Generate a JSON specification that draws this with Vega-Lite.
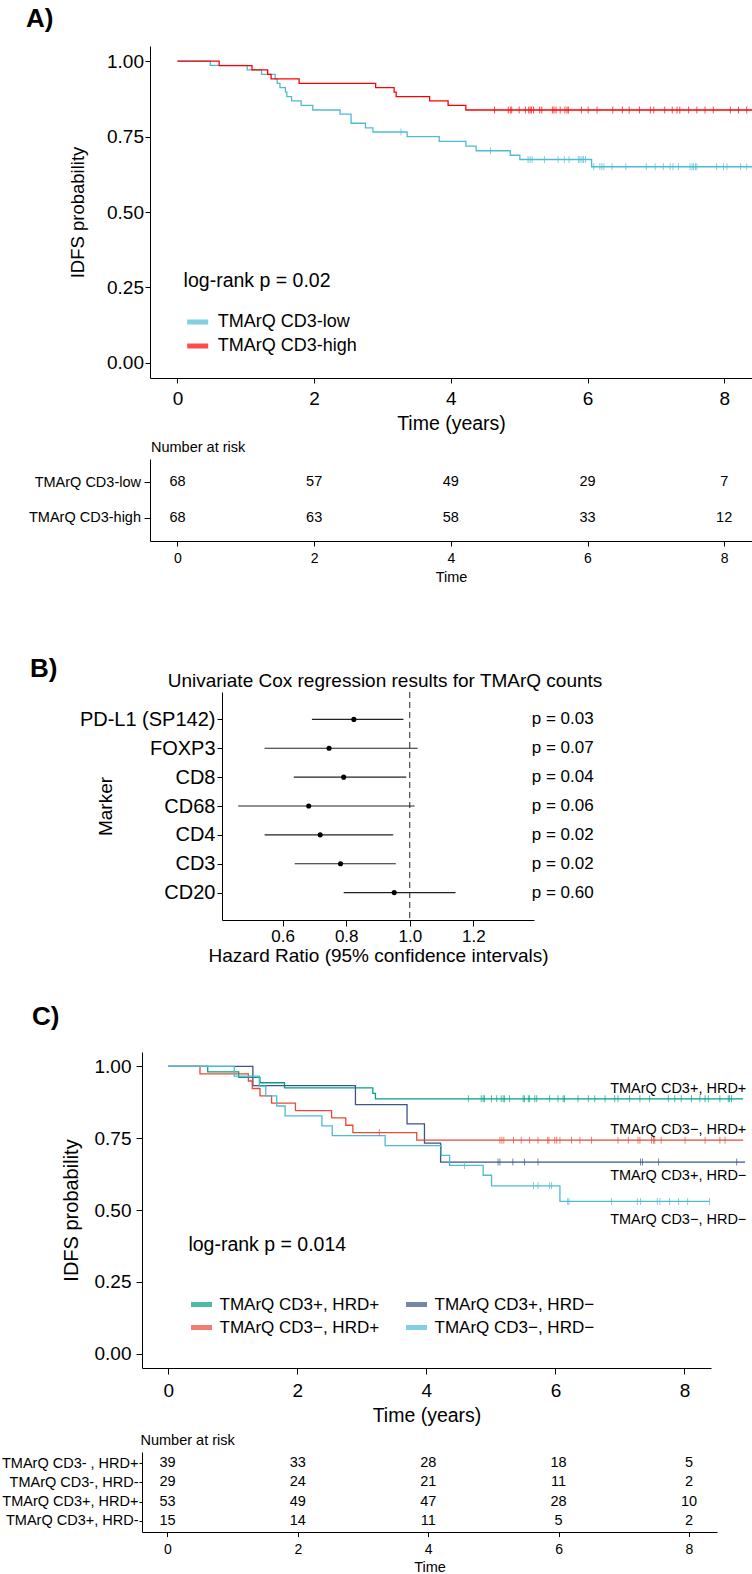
{
  "$schema": "https://vega.github.io/schema/vega-lite/v6.json",
  "background": "white",
  "padding": {"left": 0, "top": 6, "right": 0, "bottom": 0},
  "autosize": {"type": "pad"},
  "spacing": 19,
  "resolve": {"scale": {"color": "independent"}, "legend": {"color": "independent"}},
  "config": {
    "view": {"stroke": null},
    "font": "Liberation Sans",
    "axis": {"grid": false, "domainColor": "black", "tickColor": "black", "labelColor": "black", "titleColor": "black", "titleFontWeight": "normal", "domainWidth": 1, "tickWidth": 1, "labelFont": "Liberation Sans", "titleFont": "Liberation Sans"},
    "title": {"color": "black", "font": "Liberation Sans"},
    "legend": {"labelFont": "Liberation Sans", "labelColor": "black"}
  },
  "datasets": {
    "kmA": [
      {"group": "TMArQ CD3-low", "time": 0, "surv": 1},
      {"group": "TMArQ CD3-low", "time": 0.48, "surv": 0.986},
      {"group": "TMArQ CD3-low", "time": 1.02, "surv": 0.971},
      {"group": "TMArQ CD3-low", "time": 1.23, "surv": 0.956},
      {"group": "TMArQ CD3-low", "time": 1.43, "surv": 0.941},
      {"group": "TMArQ CD3-low", "time": 1.46, "surv": 0.926},
      {"group": "TMArQ CD3-low", "time": 1.5, "surv": 0.912},
      {"group": "TMArQ CD3-low", "time": 1.58, "surv": 0.897},
      {"group": "TMArQ CD3-low", "time": 1.6, "surv": 0.882},
      {"group": "TMArQ CD3-low", "time": 1.67, "surv": 0.868},
      {"group": "TMArQ CD3-low", "time": 1.81, "surv": 0.853},
      {"group": "TMArQ CD3-low", "time": 1.98, "surv": 0.838},
      {"group": "TMArQ CD3-low", "time": 2.38, "surv": 0.824},
      {"group": "TMArQ CD3-low", "time": 2.54, "surv": 0.794},
      {"group": "TMArQ CD3-low", "time": 2.75, "surv": 0.779},
      {"group": "TMArQ CD3-low", "time": 2.86, "surv": 0.765},
      {"group": "TMArQ CD3-low", "time": 3.36, "surv": 0.75},
      {"group": "TMArQ CD3-low", "time": 3.83, "surv": 0.734},
      {"group": "TMArQ CD3-low", "time": 4.22, "surv": 0.718},
      {"group": "TMArQ CD3-low", "time": 4.37, "surv": 0.703},
      {"group": "TMArQ CD3-low", "time": 4.87, "surv": 0.688},
      {"group": "TMArQ CD3-low", "time": 5.01, "surv": 0.674},
      {"group": "TMArQ CD3-low", "time": 6.06, "surv": 0.65},
      {"group": "TMArQ CD3-low", "time": 8.6, "surv": 0.65},
      {"group": "TMArQ CD3-high", "time": 0, "surv": 1},
      {"group": "TMArQ CD3-high", "time": 0.61, "surv": 0.985},
      {"group": "TMArQ CD3-high", "time": 1.09, "surv": 0.971},
      {"group": "TMArQ CD3-high", "time": 1.32, "surv": 0.956},
      {"group": "TMArQ CD3-high", "time": 1.37, "surv": 0.941},
      {"group": "TMArQ CD3-high", "time": 1.78, "surv": 0.926},
      {"group": "TMArQ CD3-high", "time": 2.9, "surv": 0.912},
      {"group": "TMArQ CD3-high", "time": 3.17, "surv": 0.897},
      {"group": "TMArQ CD3-high", "time": 3.2, "surv": 0.882},
      {"group": "TMArQ CD3-high", "time": 3.69, "surv": 0.868},
      {"group": "TMArQ CD3-high", "time": 3.96, "surv": 0.853},
      {"group": "TMArQ CD3-high", "time": 4.22, "surv": 0.838},
      {"group": "TMArQ CD3-high", "time": 8.6, "surv": 0.838}
    ],
    "censA": [
      {"group": "TMArQ CD3-high", "time": 4.64, "surv": 0.838},
      {"group": "TMArQ CD3-high", "time": 4.84, "surv": 0.838},
      {"group": "TMArQ CD3-high", "time": 4.87, "surv": 0.838},
      {"group": "TMArQ CD3-high", "time": 4.89, "surv": 0.838},
      {"group": "TMArQ CD3-high", "time": 5.0, "surv": 0.838},
      {"group": "TMArQ CD3-high", "time": 5.09, "surv": 0.838},
      {"group": "TMArQ CD3-high", "time": 5.14, "surv": 0.838},
      {"group": "TMArQ CD3-high", "time": 5.16, "surv": 0.838},
      {"group": "TMArQ CD3-high", "time": 5.18, "surv": 0.838},
      {"group": "TMArQ CD3-high", "time": 5.21, "surv": 0.838},
      {"group": "TMArQ CD3-high", "time": 5.3, "surv": 0.838},
      {"group": "TMArQ CD3-high", "time": 5.33, "surv": 0.838},
      {"group": "TMArQ CD3-high", "time": 5.49, "surv": 0.838},
      {"group": "TMArQ CD3-high", "time": 5.51, "surv": 0.838},
      {"group": "TMArQ CD3-high", "time": 5.54, "surv": 0.838},
      {"group": "TMArQ CD3-high", "time": 5.6, "surv": 0.838},
      {"group": "TMArQ CD3-high", "time": 5.67, "surv": 0.838},
      {"group": "TMArQ CD3-high", "time": 5.7, "surv": 0.838},
      {"group": "TMArQ CD3-high", "time": 5.72, "surv": 0.838},
      {"group": "TMArQ CD3-high", "time": 5.91, "surv": 0.838},
      {"group": "TMArQ CD3-high", "time": 6.01, "surv": 0.838},
      {"group": "TMArQ CD3-high", "time": 6.14, "surv": 0.838},
      {"group": "TMArQ CD3-high", "time": 6.37, "surv": 0.838},
      {"group": "TMArQ CD3-high", "time": 6.51, "surv": 0.838},
      {"group": "TMArQ CD3-high", "time": 6.61, "surv": 0.838},
      {"group": "TMArQ CD3-high", "time": 6.76, "surv": 0.838},
      {"group": "TMArQ CD3-high", "time": 6.92, "surv": 0.838},
      {"group": "TMArQ CD3-high", "time": 6.97, "surv": 0.838},
      {"group": "TMArQ CD3-high", "time": 7.13, "surv": 0.838},
      {"group": "TMArQ CD3-high", "time": 7.24, "surv": 0.838},
      {"group": "TMArQ CD3-high", "time": 7.31, "surv": 0.838},
      {"group": "TMArQ CD3-high", "time": 7.35, "surv": 0.838},
      {"group": "TMArQ CD3-high", "time": 7.48, "surv": 0.838},
      {"group": "TMArQ CD3-high", "time": 7.6, "surv": 0.838},
      {"group": "TMArQ CD3-high", "time": 7.72, "surv": 0.838},
      {"group": "TMArQ CD3-high", "time": 7.84, "surv": 0.838},
      {"group": "TMArQ CD3-high", "time": 8.09, "surv": 0.838},
      {"group": "TMArQ CD3-high", "time": 8.21, "surv": 0.838},
      {"group": "TMArQ CD3-high", "time": 8.33, "surv": 0.838},
      {"group": "TMArQ CD3-low", "time": 3.27, "surv": 0.765},
      {"group": "TMArQ CD3-low", "time": 4.58, "surv": 0.703},
      {"group": "TMArQ CD3-low", "time": 5.13, "surv": 0.674},
      {"group": "TMArQ CD3-low", "time": 5.16, "surv": 0.674},
      {"group": "TMArQ CD3-low", "time": 5.19, "surv": 0.674},
      {"group": "TMArQ CD3-low", "time": 5.37, "surv": 0.674},
      {"group": "TMArQ CD3-low", "time": 5.57, "surv": 0.674},
      {"group": "TMArQ CD3-low", "time": 5.66, "surv": 0.674},
      {"group": "TMArQ CD3-low", "time": 5.73, "surv": 0.674},
      {"group": "TMArQ CD3-low", "time": 5.87, "surv": 0.674},
      {"group": "TMArQ CD3-low", "time": 5.89, "surv": 0.674},
      {"group": "TMArQ CD3-low", "time": 5.92, "surv": 0.674},
      {"group": "TMArQ CD3-low", "time": 5.94, "surv": 0.674},
      {"group": "TMArQ CD3-low", "time": 5.97, "surv": 0.674},
      {"group": "TMArQ CD3-low", "time": 6.09, "surv": 0.65},
      {"group": "TMArQ CD3-low", "time": 6.18, "surv": 0.65},
      {"group": "TMArQ CD3-low", "time": 6.21, "surv": 0.65},
      {"group": "TMArQ CD3-low", "time": 6.24, "surv": 0.65},
      {"group": "TMArQ CD3-low", "time": 6.36, "surv": 0.65},
      {"group": "TMArQ CD3-low", "time": 6.56, "surv": 0.65},
      {"group": "TMArQ CD3-low", "time": 6.86, "surv": 0.65},
      {"group": "TMArQ CD3-low", "time": 6.99, "surv": 0.65},
      {"group": "TMArQ CD3-low", "time": 7.11, "surv": 0.65},
      {"group": "TMArQ CD3-low", "time": 7.21, "surv": 0.65},
      {"group": "TMArQ CD3-low", "time": 7.25, "surv": 0.65},
      {"group": "TMArQ CD3-low", "time": 7.33, "surv": 0.65},
      {"group": "TMArQ CD3-low", "time": 7.5, "surv": 0.65},
      {"group": "TMArQ CD3-low", "time": 7.53, "surv": 0.65},
      {"group": "TMArQ CD3-low", "time": 7.55, "surv": 0.65},
      {"group": "TMArQ CD3-low", "time": 7.58, "surv": 0.65},
      {"group": "TMArQ CD3-low", "time": 7.6, "surv": 0.65},
      {"group": "TMArQ CD3-low", "time": 7.89, "surv": 0.65},
      {"group": "TMArQ CD3-low", "time": 7.99, "surv": 0.65},
      {"group": "TMArQ CD3-low", "time": 8.04, "surv": 0.65},
      {"group": "TMArQ CD3-low", "time": 8.24, "surv": 0.65},
      {"group": "TMArQ CD3-low", "time": 8.33, "surv": 0.65}
    ],
    "riskA": [
      {"group": "TMArQ CD3-low", "time": 0, "n": 68},
      {"group": "TMArQ CD3-low", "time": 2, "n": 57},
      {"group": "TMArQ CD3-low", "time": 4, "n": 49},
      {"group": "TMArQ CD3-low", "time": 6, "n": 29},
      {"group": "TMArQ CD3-low", "time": 8, "n": 7},
      {"group": "TMArQ CD3-high", "time": 0, "n": 68},
      {"group": "TMArQ CD3-high", "time": 2, "n": 63},
      {"group": "TMArQ CD3-high", "time": 4, "n": 58},
      {"group": "TMArQ CD3-high", "time": 6, "n": 33},
      {"group": "TMArQ CD3-high", "time": 8, "n": 12}
    ],
    "cox": [
      {"marker": "PD-L1 (SP142)", "hr": 0.824, "lo": 0.692, "hi": 0.98, "label": "p = 0.03"},
      {"marker": "FOXP3", "hr": 0.746, "lo": 0.543, "hi": 1.025, "label": "p = 0.07"},
      {"marker": "CD8", "hr": 0.792, "lo": 0.635, "hi": 0.989, "label": "p = 0.04"},
      {"marker": "CD68", "hr": 0.682, "lo": 0.46, "hi": 1.015, "label": "p = 0.06"},
      {"marker": "CD4", "hr": 0.718, "lo": 0.543, "hi": 0.948, "label": "p = 0.02"},
      {"marker": "CD3", "hr": 0.782, "lo": 0.638, "hi": 0.956, "label": "p = 0.02"},
      {"marker": "CD20", "hr": 0.951, "lo": 0.792, "hi": 1.144, "label": "p = 0.60"}
    ],
    "kmC": [
      {"group": "TMArQ CD3+, HRD+", "time": 0, "surv": 1},
      {"group": "TMArQ CD3+, HRD+", "time": 0.61, "surv": 0.981},
      {"group": "TMArQ CD3+, HRD+", "time": 1.09, "surv": 0.962},
      {"group": "TMArQ CD3+, HRD+", "time": 1.42, "surv": 0.943},
      {"group": "TMArQ CD3+, HRD+", "time": 1.8, "surv": 0.925},
      {"group": "TMArQ CD3+, HRD+", "time": 3.17, "surv": 0.906},
      {"group": "TMArQ CD3+, HRD+", "time": 3.21, "surv": 0.887},
      {"group": "TMArQ CD3+, HRD+", "time": 8.91, "surv": 0.887},
      {"group": "TMArQ CD3+, HRD−", "time": 0, "surv": 1},
      {"group": "TMArQ CD3+, HRD−", "time": 1.31, "surv": 0.933},
      {"group": "TMArQ CD3+, HRD−", "time": 2.9, "surv": 0.867},
      {"group": "TMArQ CD3+, HRD−", "time": 3.7, "surv": 0.8},
      {"group": "TMArQ CD3+, HRD−", "time": 3.97, "surv": 0.733},
      {"group": "TMArQ CD3+, HRD−", "time": 4.22, "surv": 0.667},
      {"group": "TMArQ CD3+, HRD−", "time": 8.94, "surv": 0.667},
      {"group": "TMArQ CD3−, HRD+", "time": 0, "surv": 1},
      {"group": "TMArQ CD3−, HRD+", "time": 0.49, "surv": 0.974},
      {"group": "TMArQ CD3−, HRD+", "time": 1.24, "surv": 0.949},
      {"group": "TMArQ CD3−, HRD+", "time": 1.3, "surv": 0.923},
      {"group": "TMArQ CD3−, HRD+", "time": 1.42, "surv": 0.897},
      {"group": "TMArQ CD3−, HRD+", "time": 1.6, "surv": 0.872},
      {"group": "TMArQ CD3−, HRD+", "time": 1.97, "surv": 0.846},
      {"group": "TMArQ CD3−, HRD+", "time": 2.53, "surv": 0.821},
      {"group": "TMArQ CD3−, HRD+", "time": 2.75, "surv": 0.795},
      {"group": "TMArQ CD3−, HRD+", "time": 2.86, "surv": 0.769},
      {"group": "TMArQ CD3−, HRD+", "time": 3.85, "surv": 0.743},
      {"group": "TMArQ CD3−, HRD+", "time": 8.91, "surv": 0.743},
      {"group": "TMArQ CD3−, HRD−", "time": 0, "surv": 1},
      {"group": "TMArQ CD3−, HRD−", "time": 1.02, "surv": 0.966},
      {"group": "TMArQ CD3−, HRD−", "time": 1.41, "surv": 0.931},
      {"group": "TMArQ CD3−, HRD−", "time": 1.51, "surv": 0.897},
      {"group": "TMArQ CD3−, HRD−", "time": 1.68, "surv": 0.862},
      {"group": "TMArQ CD3−, HRD−", "time": 1.81, "surv": 0.828},
      {"group": "TMArQ CD3−, HRD−", "time": 2.38, "surv": 0.793},
      {"group": "TMArQ CD3−, HRD−", "time": 2.54, "surv": 0.759},
      {"group": "TMArQ CD3−, HRD−", "time": 3.36, "surv": 0.724},
      {"group": "TMArQ CD3−, HRD−", "time": 4.23, "surv": 0.69},
      {"group": "TMArQ CD3−, HRD−", "time": 4.36, "surv": 0.655},
      {"group": "TMArQ CD3−, HRD−", "time": 4.88, "surv": 0.621},
      {"group": "TMArQ CD3−, HRD−", "time": 5.01, "surv": 0.584},
      {"group": "TMArQ CD3−, HRD−", "time": 6.07, "surv": 0.53},
      {"group": "TMArQ CD3−, HRD−", "time": 8.39, "surv": 0.53}
    ],
    "censC": [
      {"group": "TMArQ CD3+, HRD+", "time": 4.65, "surv": 0.887},
      {"group": "TMArQ CD3+, HRD+", "time": 4.85, "surv": 0.887},
      {"group": "TMArQ CD3+, HRD+", "time": 4.88, "surv": 0.887},
      {"group": "TMArQ CD3+, HRD+", "time": 4.9, "surv": 0.887},
      {"group": "TMArQ CD3+, HRD+", "time": 5.01, "surv": 0.887},
      {"group": "TMArQ CD3+, HRD+", "time": 5.09, "surv": 0.887},
      {"group": "TMArQ CD3+, HRD+", "time": 5.16, "surv": 0.887},
      {"group": "TMArQ CD3+, HRD+", "time": 5.19, "surv": 0.887},
      {"group": "TMArQ CD3+, HRD+", "time": 5.21, "surv": 0.887},
      {"group": "TMArQ CD3+, HRD+", "time": 5.29, "surv": 0.887},
      {"group": "TMArQ CD3+, HRD+", "time": 5.5, "surv": 0.887},
      {"group": "TMArQ CD3+, HRD+", "time": 5.52, "surv": 0.887},
      {"group": "TMArQ CD3+, HRD+", "time": 5.58, "surv": 0.887},
      {"group": "TMArQ CD3+, HRD+", "time": 5.6, "surv": 0.887},
      {"group": "TMArQ CD3+, HRD+", "time": 5.68, "surv": 0.887},
      {"group": "TMArQ CD3+, HRD+", "time": 5.71, "surv": 0.887},
      {"group": "TMArQ CD3+, HRD+", "time": 5.91, "surv": 0.887},
      {"group": "TMArQ CD3+, HRD+", "time": 6.04, "surv": 0.887},
      {"group": "TMArQ CD3+, HRD+", "time": 6.12, "surv": 0.887},
      {"group": "TMArQ CD3+, HRD+", "time": 6.14, "surv": 0.887},
      {"group": "TMArQ CD3+, HRD+", "time": 6.35, "surv": 0.887},
      {"group": "TMArQ CD3+, HRD+", "time": 6.51, "surv": 0.887},
      {"group": "TMArQ CD3+, HRD+", "time": 6.61, "surv": 0.887},
      {"group": "TMArQ CD3+, HRD+", "time": 6.77, "surv": 0.887},
      {"group": "TMArQ CD3+, HRD+", "time": 6.92, "surv": 0.887},
      {"group": "TMArQ CD3+, HRD+", "time": 6.97, "surv": 0.887},
      {"group": "TMArQ CD3+, HRD+", "time": 7.15, "surv": 0.887},
      {"group": "TMArQ CD3+, HRD+", "time": 7.31, "surv": 0.887},
      {"group": "TMArQ CD3+, HRD+", "time": 7.46, "surv": 0.887},
      {"group": "TMArQ CD3+, HRD+", "time": 7.75, "surv": 0.887},
      {"group": "TMArQ CD3+, HRD+", "time": 7.85, "surv": 0.887},
      {"group": "TMArQ CD3+, HRD+", "time": 7.95, "surv": 0.887},
      {"group": "TMArQ CD3+, HRD+", "time": 8.11, "surv": 0.887},
      {"group": "TMArQ CD3+, HRD+", "time": 8.24, "surv": 0.887},
      {"group": "TMArQ CD3+, HRD+", "time": 8.32, "surv": 0.887},
      {"group": "TMArQ CD3+, HRD+", "time": 8.37, "surv": 0.887},
      {"group": "TMArQ CD3+, HRD+", "time": 8.55, "surv": 0.887},
      {"group": "TMArQ CD3+, HRD+", "time": 8.68, "surv": 0.887},
      {"group": "TMArQ CD3+, HRD+", "time": 8.7, "surv": 0.887},
      {"group": "TMArQ CD3+, HRD+", "time": 8.73, "surv": 0.887},
      {"group": "TMArQ CD3−, HRD+", "time": 3.27, "surv": 0.769},
      {"group": "TMArQ CD3−, HRD+", "time": 5.14, "surv": 0.743},
      {"group": "TMArQ CD3−, HRD+", "time": 5.17, "surv": 0.743},
      {"group": "TMArQ CD3−, HRD+", "time": 5.2, "surv": 0.743},
      {"group": "TMArQ CD3−, HRD+", "time": 5.35, "surv": 0.743},
      {"group": "TMArQ CD3−, HRD+", "time": 5.47, "surv": 0.743},
      {"group": "TMArQ CD3−, HRD+", "time": 5.6, "surv": 0.743},
      {"group": "TMArQ CD3−, HRD+", "time": 5.73, "surv": 0.743},
      {"group": "TMArQ CD3−, HRD+", "time": 5.88, "surv": 0.743},
      {"group": "TMArQ CD3−, HRD+", "time": 5.9, "surv": 0.743},
      {"group": "TMArQ CD3−, HRD+", "time": 5.99, "surv": 0.743},
      {"group": "TMArQ CD3−, HRD+", "time": 6.02, "surv": 0.743},
      {"group": "TMArQ CD3−, HRD+", "time": 6.07, "surv": 0.743},
      {"group": "TMArQ CD3−, HRD+", "time": 6.25, "surv": 0.743},
      {"group": "TMArQ CD3−, HRD+", "time": 6.38, "surv": 0.743},
      {"group": "TMArQ CD3−, HRD+", "time": 6.56, "surv": 0.743},
      {"group": "TMArQ CD3−, HRD+", "time": 6.97, "surv": 0.743},
      {"group": "TMArQ CD3−, HRD+", "time": 7.13, "surv": 0.743},
      {"group": "TMArQ CD3−, HRD+", "time": 7.28, "surv": 0.743},
      {"group": "TMArQ CD3−, HRD+", "time": 7.31, "surv": 0.743},
      {"group": "TMArQ CD3−, HRD+", "time": 7.49, "surv": 0.743},
      {"group": "TMArQ CD3−, HRD+", "time": 7.52, "surv": 0.743},
      {"group": "TMArQ CD3−, HRD+", "time": 7.54, "surv": 0.743},
      {"group": "TMArQ CD3−, HRD+", "time": 7.64, "surv": 0.743},
      {"group": "TMArQ CD3−, HRD+", "time": 8.01, "surv": 0.743},
      {"group": "TMArQ CD3−, HRD+", "time": 8.32, "surv": 0.743},
      {"group": "TMArQ CD3−, HRD+", "time": 8.55, "surv": 0.743},
      {"group": "TMArQ CD3−, HRD+", "time": 8.63, "surv": 0.743},
      {"group": "TMArQ CD3+, HRD−", "time": 5.11, "surv": 0.667},
      {"group": "TMArQ CD3+, HRD−", "time": 5.14, "surv": 0.667},
      {"group": "TMArQ CD3+, HRD−", "time": 5.34, "surv": 0.667},
      {"group": "TMArQ CD3+, HRD−", "time": 5.52, "surv": 0.667},
      {"group": "TMArQ CD3+, HRD−", "time": 5.73, "surv": 0.667},
      {"group": "TMArQ CD3+, HRD−", "time": 7.32, "surv": 0.667},
      {"group": "TMArQ CD3+, HRD−", "time": 7.35, "surv": 0.667},
      {"group": "TMArQ CD3+, HRD−", "time": 7.6, "surv": 0.667},
      {"group": "TMArQ CD3+, HRD−", "time": 8.81, "surv": 0.667},
      {"group": "TMArQ CD3−, HRD−", "time": 4.59, "surv": 0.655},
      {"group": "TMArQ CD3−, HRD−", "time": 5.66, "surv": 0.584},
      {"group": "TMArQ CD3−, HRD−", "time": 5.73, "surv": 0.584},
      {"group": "TMArQ CD3−, HRD−", "time": 5.91, "surv": 0.584},
      {"group": "TMArQ CD3−, HRD−", "time": 5.94, "surv": 0.584},
      {"group": "TMArQ CD3−, HRD−", "time": 6.19, "surv": 0.53},
      {"group": "TMArQ CD3−, HRD−", "time": 6.21, "surv": 0.53},
      {"group": "TMArQ CD3−, HRD−", "time": 6.87, "surv": 0.53},
      {"group": "TMArQ CD3−, HRD−", "time": 7.27, "surv": 0.53},
      {"group": "TMArQ CD3−, HRD−", "time": 7.32, "surv": 0.53},
      {"group": "TMArQ CD3−, HRD−", "time": 7.58, "surv": 0.53},
      {"group": "TMArQ CD3−, HRD−", "time": 7.62, "surv": 0.53},
      {"group": "TMArQ CD3−, HRD−", "time": 7.77, "surv": 0.53},
      {"group": "TMArQ CD3−, HRD−", "time": 7.91, "surv": 0.53},
      {"group": "TMArQ CD3−, HRD−", "time": 8.05, "surv": 0.53},
      {"group": "TMArQ CD3−, HRD−", "time": 8.39, "surv": 0.53}
    ],
    "labC": [
      {"label": "TMArQ CD3+, HRD+", "surv": 0.922},
      {"label": "TMArQ CD3−, HRD+", "surv": 0.779},
      {"label": "TMArQ CD3+, HRD−", "surv": 0.619},
      {"label": "TMArQ CD3−, HRD−", "surv": 0.466}
    ],
    "riskC": [
      {"group": "TMArQ CD3- , HRD+", "time": 0, "n": 39},
      {"group": "TMArQ CD3- , HRD+", "time": 2, "n": 33},
      {"group": "TMArQ CD3- , HRD+", "time": 4, "n": 28},
      {"group": "TMArQ CD3- , HRD+", "time": 6, "n": 18},
      {"group": "TMArQ CD3- , HRD+", "time": 8, "n": 5},
      {"group": "TMArQ CD3-, HRD-", "time": 0, "n": 29},
      {"group": "TMArQ CD3-, HRD-", "time": 2, "n": 24},
      {"group": "TMArQ CD3-, HRD-", "time": 4, "n": 21},
      {"group": "TMArQ CD3-, HRD-", "time": 6, "n": 11},
      {"group": "TMArQ CD3-, HRD-", "time": 8, "n": 2},
      {"group": "TMArQ CD3+, HRD+", "time": 0, "n": 53},
      {"group": "TMArQ CD3+, HRD+", "time": 2, "n": 49},
      {"group": "TMArQ CD3+, HRD+", "time": 4, "n": 47},
      {"group": "TMArQ CD3+, HRD+", "time": 6, "n": 28},
      {"group": "TMArQ CD3+, HRD+", "time": 8, "n": 10},
      {"group": "TMArQ CD3+, HRD-", "time": 0, "n": 15},
      {"group": "TMArQ CD3+, HRD-", "time": 2, "n": 14},
      {"group": "TMArQ CD3+, HRD-", "time": 4, "n": 11},
      {"group": "TMArQ CD3+, HRD-", "time": 6, "n": 5},
      {"group": "TMArQ CD3+, HRD-", "time": 8, "n": 2}
    ]
  },
  "vconcat": [
    {
      "spacing": 0,
      "resolve": {"scale": {"color": "independent"}, "legend": {"color": "independent"}},
      "hconcat": [
        {"width": 26, "height": 1, "data": {"values": []}, "mark": "point"},
        {
          "title": {"text": "A)", "anchor": "start", "frame": "group", "dx": -124, "fontSize": 26, "fontWeight": "bold", "offset": 14},
          "spacing": 6,
          "resolve": {"scale": {"color": "independent"}, "legend": {"color": "independent"}},
          "vconcat": [
            {
              "width": 602,
              "height": 332,
              "layer": [
                {
                  "data": {"name": "kmA"},
                  "mark": {"type": "line", "interpolate": "step-after", "strokeWidth": 1.3, "clip": true},
                  "encoding": {
                    "x": {"field": "time", "type": "quantitative", "scale": {"domain": [-0.402, 8.407], "nice": false, "zero": false},
                      "axis": {"values": [0, 2, 4, 6, 8], "format": "d", "title": "Time (years)", "labelFontSize": 19, "titleFontSize": 19.5, "tickSize": 5, "labelPadding": 6.5, "titleY": 45, "titleBaseline": "middle"}},
                    "y": {"field": "surv", "type": "quantitative", "scale": {"domain": [-0.05, 1.05], "nice": false, "zero": false},
                      "axis": {"values": [0, 0.25, 0.5, 0.75, 1], "format": ".2f", "title": "IDFS probability", "labelFontSize": 19, "titleFontSize": 18.5, "tickSize": 5, "labelPadding": 1.5, "titleX": -73, "titleBaseline": "middle"}},
                    "color": {"field": "group", "type": "nominal", "scale": {"domain": ["TMArQ CD3-low", "TMArQ CD3-high"], "range": ["#4DBBD5", "#FF0000"]},
                      "legend": {"title": null, "orient": "none", "legendX": 34.7, "legendY": 263, "symbolType": "stroke", "symbolSize": 441, "symbolStrokeWidth": 5, "labelFontSize": 18, "labelOffset": 7, "rowPadding": 1, "padding": 0}}
                  }
                },
                {
                  "data": {"name": "censA"},
                  "mark": {"type": "tick", "orient": "vertical", "size": 7, "thickness": 1, "clip": true},
                  "encoding": {
                    "x": {"field": "time", "type": "quantitative"},
                    "y": {"field": "surv", "type": "quantitative"},
                    "color": {"field": "group", "type": "nominal"}
                  }
                },
                {
                  "data": {"values": [{"lab": "log-rank p = 0.02"}]},
                  "mark": {"type": "text", "align": "left", "baseline": "middle", "fontSize": 19.5},
                  "encoding": {"x": {"datum": 0.09}, "y": {"datum": 0.27}, "text": {"field": "lab"}}
                }
              ]
            },
            {
              "width": 602,
              "height": 82,
              "title": {"text": "Number at risk", "anchor": "start", "frame": "group", "dx": 1, "fontSize": 14.5, "fontWeight": "normal", "offset": 4},
              "data": {"name": "riskA"},
              "mark": {"type": "text", "fontSize": 14.5, "baseline": "middle"},
              "encoding": {
                "x": {"field": "time", "type": "quantitative", "scale": {"domain": [-0.402, 8.407], "nice": false, "zero": false},
                  "axis": {"values": [0, 2, 4, 6, 8], "format": "d", "title": "Time", "labelFontSize": 14, "titleFontSize": 14.5, "tickSize": 5, "labelPadding": 5.5, "titleY": 36.5, "titleBaseline": "middle"}},
                "y": {"field": "group", "type": "nominal", "sort": ["TMArQ CD3-low", "TMArQ CD3-high"], "scale": {"type": "point", "padding": 0.64},
                  "axis": {"title": null, "labelFontSize": 14.5, "tickSize": 6, "labelPadding": 3.5}},
                "text": {"field": "n", "type": "quantitative"}
              }
            }
          ]
        }
      ]
    },
    {"width": 1, "height": 33, "data": {"values": []}, "mark": "point"},
    {
      "spacing": 0,
      "hconcat": [
        {"width": 30, "height": 1, "data": {"values": []}, "mark": "point"},
        {
          "title": {"text": "B)", "anchor": "start", "frame": "group", "dx": -192, "fontSize": 26, "fontWeight": "bold", "offset": -10},
          "vconcat": [
            {
              "width": 312,
              "height": 228,
              "title": {"text": "Univariate Cox regression results for TMArQ counts", "anchor": "middle", "frame": "group", "dx": 7, "fontSize": 19, "fontWeight": "normal", "offset": 1},
              "data": {"name": "cox"},
              "layer": [
                {
                  "mark": {"type": "rule", "strokeWidth": 1.1, "color": "#222222"},
                  "encoding": {
                    "y": {"field": "marker", "type": "nominal", "sort": ["PD-L1 (SP142)", "FOXP3", "CD8", "CD68", "CD4", "CD3", "CD20"], "scale": {"type": "point", "padding": 0.95},
                      "axis": {"title": "Marker", "labelFontSize": 20, "titleFontSize": 19, "tickSize": 5, "labelPadding": 2, "titleX": -117, "titleBaseline": "middle"}},
                    "x": {"field": "lo", "type": "quantitative", "scale": {"domain": [0.409, 1.391], "nice": false, "zero": false},
                      "axis": {"values": [0.6, 0.8, 1.0, 1.2], "format": ".1f", "title": "Hazard Ratio (95% confidence intervals)", "labelFontSize": 17, "titleFontSize": 19, "tickSize": 6, "labelPadding": 2, "titleY": 35, "titleBaseline": "middle"}},
                    "x2": {"field": "hi"}
                  }
                },
                {
                  "mark": {"type": "point", "filled": true, "color": "black", "size": 26, "opacity": 1},
                  "encoding": {
                    "y": {"field": "marker", "type": "nominal", "sort": ["PD-L1 (SP142)", "FOXP3", "CD8", "CD68", "CD4", "CD3", "CD20"]},
                    "x": {"field": "hr", "type": "quantitative"}
                  }
                },
                {
                  "data": {"values": [{"ref": 1}]},
                  "mark": {"type": "rule", "strokeDash": [6, 4], "strokeWidth": 1, "color": "#222222"},
                  "encoding": {"x": {"field": "ref", "type": "quantitative"}}
                },
                {
                  "mark": {"type": "text", "align": "left", "baseline": "middle", "fontSize": 17},
                  "encoding": {
                    "y": {"field": "marker", "type": "nominal", "sort": ["PD-L1 (SP142)", "FOXP3", "CD8", "CD68", "CD4", "CD3", "CD20"]},
                    "x": {"datum": 1.384},
                    "text": {"field": "label"}
                  }
                }
              ]
            }
          ]
        }
      ]
    },
    {"width": 1, "height": 1, "data": {"values": []}, "mark": "point"},
    {
      "spacing": 0,
      "resolve": {"scale": {"color": "independent"}, "legend": {"color": "independent"}},
      "hconcat": [
        {"width": 1, "height": 1, "data": {"values": []}, "mark": "point"},
        {
          "title": {"text": "C)", "anchor": "start", "frame": "group", "dx": -110, "fontSize": 26, "fontWeight": "bold", "offset": 22},
          "spacing": 7,
          "resolve": {"scale": {"color": "independent"}, "legend": {"color": "independent"}},
          "vconcat": [
            {
              "width": 569,
              "height": 316,
              "layer": [
                {
                  "data": {"name": "kmC"},
                  "mark": {"type": "line", "interpolate": "step-after", "strokeWidth": 1.3, "clip": false},
                  "encoding": {
                    "x": {"field": "time", "type": "quantitative", "scale": {"domain": [-0.409, 8.412], "nice": false, "zero": false},
                      "axis": {"values": [0, 2, 4, 6, 8], "format": "d", "title": "Time (years)", "labelFontSize": 19, "titleFontSize": 19.5, "tickSize": 6, "labelPadding": 7.5, "titleY": 47.5, "titleBaseline": "middle"}},
                    "y": {"field": "surv", "type": "quantitative", "scale": {"domain": [-0.05, 1.05], "nice": false, "zero": false},
                      "axis": {"values": [0, 0.25, 0.5, 0.75, 1], "format": ".2f", "title": "IDFS probability", "labelFontSize": 19, "titleFontSize": 20, "tickSize": 6, "labelPadding": 5, "titleX": -70.5, "titleBaseline": "middle"}},
                    "color": {"field": "group", "type": "nominal", "scale": {"domain": ["TMArQ CD3+, HRD+", "TMArQ CD3−, HRD+", "TMArQ CD3+, HRD−", "TMArQ CD3−, HRD−"], "range": ["#00A087", "#E64B35", "#3C5488", "#4DBBD5"]},
                      "legend": {"title": null, "orient": "none", "legendX": 46.5, "legendY": 239.5, "columns": 2, "columnPadding": 16, "symbolType": "stroke", "symbolSize": 441, "symbolStrokeWidth": 5, "labelFontSize": 17, "labelOffset": 5, "rowPadding": 0, "padding": 0}}
                  }
                },
                {
                  "data": {"name": "censC"},
                  "mark": {"type": "tick", "orient": "vertical", "size": 7, "thickness": 1, "clip": false},
                  "encoding": {
                    "x": {"field": "time", "type": "quantitative"},
                    "y": {"field": "surv", "type": "quantitative"},
                    "color": {"field": "group", "type": "nominal"}
                  }
                },
                {
                  "data": {"values": [{"lab": "log-rank p = 0.014"}]},
                  "mark": {"type": "text", "align": "left", "baseline": "middle", "fontSize": 19.5},
                  "encoding": {"x": {"datum": 0.31}, "y": {"datum": 0.378}, "text": {"field": "lab"}}
                },
                {
                  "data": {"name": "labC"},
                  "mark": {"type": "text", "align": "right", "baseline": "middle", "fontSize": 14.5},
                  "encoding": {"x": {"datum": 8.96}, "y": {"field": "surv", "type": "quantitative"}, "text": {"field": "label"}}
                }
              ]
            },
            {
              "width": 575,
              "height": 80,
              "title": {"text": "Number at risk", "anchor": "start", "frame": "group", "dx": -1.5, "fontSize": 14.5, "fontWeight": "normal", "offset": 4},
              "data": {"name": "riskC"},
              "mark": {"type": "text", "fontSize": 14.5, "baseline": "middle"},
              "encoding": {
                "x": {"field": "time", "type": "quantitative", "scale": {"domain": [-0.391, 8.43], "nice": false, "zero": false},
                  "axis": {"values": [0, 2, 4, 6, 8], "format": "d", "title": "Time", "labelFontSize": 14, "titleFontSize": 14.5, "tickSize": 4.6, "labelPadding": 6.3, "titleY": 35, "titleBaseline": "middle"}},
                "y": {"field": "group", "type": "nominal", "sort": ["TMArQ CD3- , HRD+", "TMArQ CD3-, HRD-", "TMArQ CD3+, HRD+", "TMArQ CD3+, HRD-"], "scale": {"type": "point", "padding": 0.572},
                  "axis": {"title": null, "labelFontSize": 14.5, "tickSize": 3, "labelPadding": 1}},
                "text": {"field": "n", "type": "quantitative"}
              }
            }
          ]
        }
      ]
    }
  ]
}
